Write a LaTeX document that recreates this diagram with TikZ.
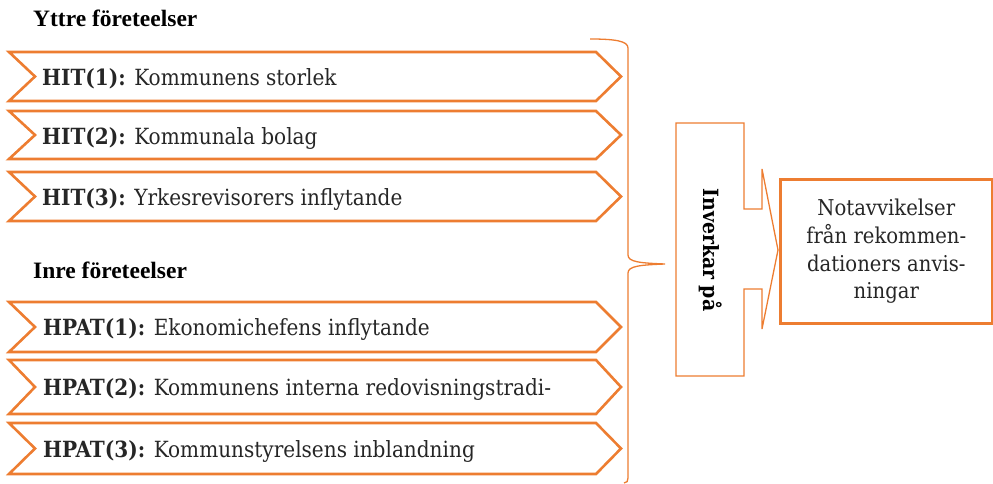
\documentclass[tikz,border=0pt]{standalone}
\usepackage{fontspec}
\setmainfont{DejaVu Serif Condensed}
\newfontfamily\headfont{Liberation Serif}
\usetikzlibrary{calc}
\definecolor{orng}{RGB}{237,125,49}
\tikzset{
  chev/.style={draw=orng, line width=2.6pt, line join=miter},
  lbl/.style={anchor=base west, inner sep=0pt, font=\fontsize{22.3}{24}\selectfont, text=black!85},
  head/.style={anchor=base west, inner sep=0pt, font=\headfont\bfseries\fontsize{23.5}{26}\selectfont},
  thin/.style={draw=orng, line width=1.3pt},
}
\begin{document}
\begin{tikzpicture}[x=1pt,y=-1pt]
\useasboundingbox (0,0) rectangle (993,484);
% headers
\node[head] (h1) at (33,27) {Yttre företeelser};
\node[head] (h2) at (33,278) {Inre företeelser};
% chevrons
\foreach \t/\b in {52/101, 111/159, 172/221, 302/352, 360/414, 423/474}{
  \draw[chev] (9,\t) -- (596,\t) -- (621,{(\t+\b)/2}) -- (596,\b) -- (9,\b) -- (35,{(\t+\b)/2}) -- cycle;
}
\node[lbl] (c1) at (42,86) {\textbf{HIT(1):} Kommunens storlek};
\node[lbl] (c2) at (42,144) {\textbf{HIT(2):} Kommunala bolag};
\node[lbl] (c3) at (42,205) {\textbf{HIT(3):} Yrkesrevisorers inflytande};
\node[lbl] (c4) at (43,335) {\textbf{HPAT(1):} Ekonomichefens inflytande};
\node[lbl] (c5) at (43,395) {\textbf{HPAT(2):} Kommunens interna redovisningstradi-};
\node[lbl] (c6) at (43,457) {\textbf{HPAT(3):} Kommunstyrelsens inblandning};
% brace
\draw[thin] (590,39) .. controls (615,39) and (628,41) .. (628,48)
  -- (628,255) .. controls (628,262) and (640,263) .. (665,264)
  .. controls (640,265) and (628,266) .. (628,273)
  -- (628,478) .. controls (628,481) and (627,483) .. (624,483);
% Inverkar arrow box
\draw[thin] (676,123) -- (744,123) -- (744,209) -- (762,209) -- (762,169) -- (778,250)
  -- (762,329) -- (762,289) -- (744,289) -- (744,376) -- (676,376) -- cycle;
\node[rotate=-90, font=\bfseries\fontsize{21}{24}\selectfont] (inv) at (711,250) {Inverkar på};
% result box
\node[draw=orng, line width=2.6pt, minimum width=212pt, minimum height=144pt, anchor=north west,
  align=center, font=\fontsize{21.8}{27.7}\selectfont, text=black!85, inner sep=0pt] (res) at (779,178)
  {Notavvikelser\\ från rekommen-\\dationers anvis-\\ningar};
\end{tikzpicture}
\end{document}
